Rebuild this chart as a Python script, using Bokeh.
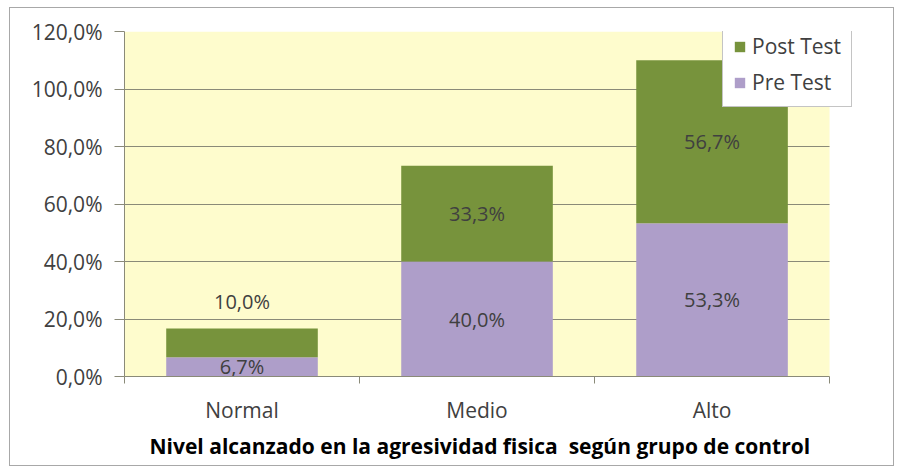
from bokeh.plotting import figure
from bokeh.models import FixedTicker, CustomJSTickFormatter, Range1d, Legend, LegendItem, ColumnDataSource, BoxAnnotation, Title
from bokeh.core.properties import value
from bokeh.embed import file_html
from bokeh.resources import INLINE

categories = ["Normal", "Medio", "Alto"]
pre_test = [6.7, 40.0, 53.3]
post_test = [10.0, 33.3, 56.7]
y_ticks = [0, 20, 40, 60, 80, 100, 120]
series_names = ["Post Test", "Pre Test"]
x_title = "Nivel alcanzado en la agresividad fisica\u00a0 según grupo de control"

GREEN = "#77933c"
PURPLE = "#ae9ec9"
BG = "#fefccd"
GRID = "#8a8a78"
TEXT = "#404040"
FONT = "Open Sans"

n = len(categories)
xs = [i + 0.5 for i in range(n)]
tops = [a + b for a, b in zip(pre_test, post_test)]

# frame extends a little beyond the last category so the legend can overhang the plot area
x_end = n * 739 / 706

p = figure(width=885, height=459, output_backend="svg", toolbar_location=None,
           x_range=Range1d(0, x_end), y_range=Range1d(0, 120),
           min_border_left=114, min_border_right=33, min_border_top=23, min_border_bottom=91)
p.styles = {"border": "1px solid #a8a8a8", "box-sizing": "border-box", "margin": "7px 0 0 9px"}
p.background_fill_color = "white"
p.border_fill_color = "white"
p.outline_line_color = None

plot_area = BoxAnnotation(left=0, right=n, fill_color=BG, fill_alpha=1, line_color=None, level="image")
p.add_layout(plot_area)

src = ColumnDataSource(dict(x=xs, pre=pre_test, post=post_test, top=tops))
r_pre = p.vbar(x="x", top="pre", bottom=0, width=0.645, source=src, fill_color=PURPLE, line_color=None)
r_post = p.vbar(x="x", top="top", bottom="pre", width=0.645, source=src, fill_color=GREEN, line_color=None)

def fmt(v):
    return f"{v:.1f}".replace(".", ",") + "%"

# data labels
pre_lbl_y = [v / 2 for v in pre_test]
post_lbl_y = []
for a, b in zip(pre_test, post_test):
    if b < 15:
        post_lbl_y.append(a + b + 9.5)
    else:
        post_lbl_y.append(a + b / 2)
p.text(x=xs, y=pre_lbl_y, text=[fmt(v) for v in pre_test], text_align="center", text_baseline="middle",
       text_font=value(FONT), text_font_size="20px", text_color=TEXT)
p.text(x=xs, y=post_lbl_y, text=[fmt(v) for v in post_test], text_align="center", text_baseline="middle",
       text_font=value(FONT), text_font_size="20px", text_color=TEXT)

# y axis
p.yaxis.ticker = FixedTicker(ticks=y_ticks)
p.yaxis.formatter = CustomJSTickFormatter(code="return tick.toFixed(1).replace('.', ',') + '%';")
p.yaxis.major_tick_out = 10
p.yaxis.major_tick_in = 0
p.yaxis.minor_tick_out = 0
p.yaxis.minor_tick_in = 0
p.yaxis.major_label_standoff = 12
p.yaxis.axis_line_color = GRID
p.yaxis.major_tick_line_color = GRID
p.yaxis.major_label_text_font = FONT
p.yaxis.major_label_text_font_size = "21px"
p.yaxis.major_label_text_color = TEXT

# x axis
p.xaxis.bounds = (0, n)
p.xaxis.ticker = FixedTicker(ticks=xs, minor_ticks=list(range(n + 1)))
p.xaxis.major_label_overrides = {x: c for x, c in zip(xs, categories)}
p.xaxis.major_tick_out = 0
p.xaxis.major_tick_in = 0
p.xaxis.minor_tick_out = 7
p.xaxis.minor_tick_in = 0
p.xaxis.minor_tick_line_color = GRID
p.xaxis.axis_line_color = GRID
p.xaxis.major_label_standoff = 12
p.xaxis.major_label_text_font = FONT
p.xaxis.major_label_text_font_size = "21px"
p.xaxis.major_label_text_color = TEXT

# axis title, aligned to the plot area (not the extended frame)
t = Title(text=x_title, align="left", offset=25, text_font=FONT, text_font_style="bold",
          text_font_size="21px", text_color="black", standoff=7)
p.add_layout(t, "below")

p.xgrid.grid_line_color = None
p.ygrid.ticker = FixedTicker(ticks=y_ticks)
p.ygrid.grid_line_color = GRID
p.ygrid.grid_line_width = 1
p.ygrid.cross_bounds = (0, n)

legend = Legend(items=[LegendItem(label=series_names[0], renderers=[r_post]),
                       LegendItem(label=series_names[1], renderers=[r_pre])],
                location=(598, 269), orientation="vertical")
legend.background_fill_color = "white"
legend.background_fill_alpha = 1
legend.border_line_color = "#8a8a8a"
legend.label_text_font = FONT
legend.label_text_font_size = "21px"
legend.label_text_color = TEXT
legend.glyph_width = 13
legend.glyph_height = 13
legend.spacing = 8
legend.padding = 10
legend.margin = 0
legend.label_standoff = 6
p.add_layout(legend, "center")

open("out.html", "w").write(file_html(p, INLINE))
